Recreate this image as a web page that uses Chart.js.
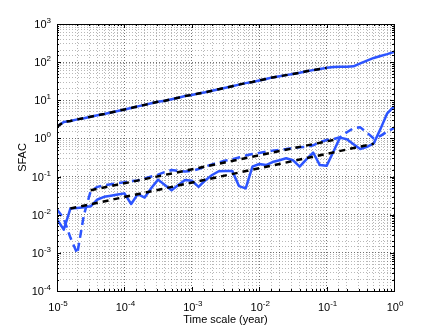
<!DOCTYPE html>
<html>
<head>
<meta charset="utf-8">
<script src="https://cdn.jsdelivr.net/npm/chart.js@4.4.0/dist/chart.umd.min.js"></script>
<style>
  html, body { margin: 0; padding: 0; background: #fff; }
</style>
</head>
<body>
<canvas id="chart" width="436" height="327"></canvas>
<script>
// Time scale (year) grid of the measured curves
const years = [
  1.00e-5, 1.26e-5, 1.58e-5, 2.00e-5, 2.51e-5, 3.16e-5, 3.98e-5, 5.01e-5, 6.31e-5, 7.94e-5,
  1.00e-4, 1.26e-4, 1.58e-4, 2.00e-4, 2.51e-4, 3.16e-4, 3.98e-4, 5.01e-4, 6.31e-4, 7.94e-4,
  1.00e-3, 1.26e-3, 1.58e-3, 2.00e-3, 2.51e-3, 3.16e-3, 3.98e-3, 5.01e-3, 6.31e-3, 7.94e-3,
  1.00e-2, 1.26e-2, 1.58e-2, 2.00e-2, 2.51e-2, 3.16e-2, 3.98e-2, 5.01e-2, 6.31e-2, 7.94e-2,
  1.00e-1, 1.26e-1, 1.58e-1, 2.00e-1, 2.51e-1, 3.16e-1, 3.98e-1, 5.01e-1, 6.31e-1, 7.94e-1,
  1.00
];

// Upper curve (solid blue)
const sfacTop = [
  2.04, 2.69, 2.88, 3.16, 3.39, 3.72, 4.07, 4.37, 4.79, 5.25,
  5.75, 6.31, 6.92, 7.59, 8.32, 9.12, 9.77, 10.7, 11.7, 12.9,
  13.8, 15.1, 16.2, 17.8, 19.5, 21.4, 23.4, 25.7, 28.2, 30.2,
  33.1, 36.3, 39.8, 42.7, 45.7, 49.0, 52.5, 57.5, 61.7, 66.1,
  70.8, 74.1, 75.9, 75.9, 77.6, 93.3, 110, 129, 145, 162,
  186
];

// Lower curve (solid blue)
const sfacLowSolid = [
  0.0076, 0.00407, 0.0145, 0.0151, 0.0158, 0.0166, 0.0251, 0.0295, 0.0316, 0.0339,
  0.0363, 0.0191, 0.0347, 0.0282, 0.0501, 0.0832, 0.0603, 0.0437, 0.0603, 0.0813,
  0.0776, 0.0537, 0.0794, 0.110, 0.138, 0.141, 0.141, 0.0562, 0.049, 0.182,
  0.214, 0.2, 0.24, 0.269, 0.302, 0.269, 0.182, 0.282, 0.427, 0.2,
  0.191, 0.447, 1.05, 0.955, 0.708, 0.525, 0.603, 0.741, 1.78, 4.57,
  6.92
];

// Lower curve (dashed blue)
const sfacLowDashed = [
  0.0138, 0.00794, 0.00251, 0.000955, 0.01, 0.0417, 0.0537, 0.0589, 0.0631, 0.0676,
  0.0708, 0.0759, 0.0794, 0.0891, 0.1, 0.112, 0.132, 0.148, 0.141, 0.135,
  0.141, 0.158, 0.182, 0.209, 0.234, 0.263, 0.282, 0.316, 0.355, 0.389,
  0.417, 0.447, 0.479, 0.501, 0.525, 0.562, 0.589, 0.603, 0.661, 0.794,
  0.912, 0.955, 1.07, 1.45, 1.86, 1.95, 1.41, 1.0, 1.17, 1.51,
  1.86
];

// Fits (black dashed)
const fitTopYears = years.slice(0, 41);
const fitTopSfac = sfacTop.slice(0, 41);
const fitMidYears = [3.16e-5, 0.126];
const fitMidSfac = [0.0437, 0.912];
const fitLowYears = [1.58e-5, 0.501];
const fitLowSfac = [0.0145, 0.724];

// Axis ticks
const xDecades = [1e-5, 1e-4, 1e-3, 1e-2, 1e-1, 1e0];
const yDecades = [1e-4, 1e-3, 1e-2, 1e-1, 1e0, 1e1, 1e2, 1e3];

const BLUE = 'rgb(45, 85, 255)';
const FONT = '"Liberation Sans", Arial, sans-serif';

function pts(xs, ys) {
    return xs.map((x, i) => ({ x: x, y: ys[i] }));
}

function isDecade(v) {
    const l = Math.log10(v);
    return Math.abs(l - Math.round(l)) < 1e-6;
}

// 10^n label
function drawPow(ctx, exp, x, y, align) {
    const base = '10';
    const sup = String(exp);
    ctx.font = '11px ' + FONT;
    const w1 = ctx.measureText(base).width;
    ctx.font = '8px ' + FONT;
    const w2 = ctx.measureText(sup).width;
    let left = align === 'right' ? x - w1 - w2 : x - (w1 + w2) / 2;
    ctx.textAlign = 'left';
    ctx.textBaseline = 'alphabetic';
    ctx.font = '11px ' + FONT;
    ctx.fillText(base, left, y);
    ctx.font = '8px ' + FONT;
    ctx.fillText(sup, left + w1, y - 5);
}

// Рамка, тики внутрь и подписи как в MATLAB
const axesBox = {
    id: 'axesBox',
    afterDraw(chart) {
        const ctx = chart.ctx;
        const a = chart.chartArea;
        const xs = chart.scales.x;
        const ys = chart.scales.y;
        ctx.save();
        ctx.strokeStyle = '#000';
        ctx.lineWidth = 1;

        // inner tick marks
        ctx.beginPath();
        xs.ticks.forEach(t => {
            const px = Math.round(xs.getPixelForValue(t.value)) + 0.5;
            const len = isDecade(t.value) ? 4 : 2;
            ctx.moveTo(px, a.bottom); ctx.lineTo(px, a.bottom - len);
            ctx.moveTo(px, a.top); ctx.lineTo(px, a.top + len);
        });
        ys.ticks.forEach(t => {
            const py = Math.round(ys.getPixelForValue(t.value)) + 0.5;
            const len = isDecade(t.value) ? 4 : 2;
            ctx.moveTo(a.left, py); ctx.lineTo(a.left + len, py);
            ctx.moveTo(a.right, py); ctx.lineTo(a.right - len, py);
        });
        ctx.stroke();

        // frame
        ctx.strokeRect(Math.round(a.left) + 0.5, Math.round(a.top) + 0.5,
            Math.round(a.right - a.left), Math.round(a.bottom - a.top));

        // tick labels
        ctx.fillStyle = '#000';
        xDecades.forEach(v => {
            drawPow(ctx, Math.round(Math.log10(v)), xs.getPixelForValue(v) + 1, a.bottom + 20, 'center');
        });
        yDecades.forEach(v => {
            drawPow(ctx, Math.round(Math.log10(v)), a.left - 6, ys.getPixelForValue(v) + 4, 'right');
        });

        // axis titles
        ctx.font = '11px ' + FONT;
        ctx.textAlign = 'center';
        ctx.textBaseline = 'middle';
        ctx.fillText('Time scale (year)', (a.left + a.right) / 2, a.bottom + 29);
        ctx.save();
        ctx.translate(23, (a.top + a.bottom) / 2);
        ctx.rotate(-Math.PI / 2);
        ctx.fillText('SFAC', 0, 0);
        ctx.restore();

        ctx.restore();
    }
};

const gridOpts = {
    drawTicks: false,
    color: c => (c.tick && isDecade(c.tick.value)) ? 'rgba(0,0,0,0.55)' : 'rgba(0,0,0,0.28)',
    lineWidth: 1
};

const ctx = document.getElementById('chart').getContext('2d');
new Chart(ctx, {
    type: 'line',
    data: {
        datasets: [
            {
                label: 'fit top',
                data: pts(fitTopYears, fitTopSfac),
                borderColor: '#000',
                borderWidth: 2.5,
                borderDash: [6, 5],
                order: 0
            },
            {
                label: 'fit mid',
                data: pts(fitMidYears, fitMidSfac),
                borderColor: '#000',
                borderWidth: 2.5,
                borderDash: [6, 5],
                order: 0
            },
            {
                label: 'fit low',
                data: pts(fitLowYears, fitLowSfac),
                borderColor: '#000',
                borderWidth: 2.5,
                borderDash: [6, 5],
                order: 0
            },
            {
                label: 'top',
                data: pts(years, sfacTop),
                borderColor: BLUE,
                borderWidth: 2.5,
                order: 1
            },
            {
                label: 'low solid',
                data: pts(years, sfacLowSolid),
                borderColor: BLUE,
                borderWidth: 2.5,
                order: 1
            },
            {
                label: 'low dashed',
                data: pts(years, sfacLowDashed),
                borderColor: BLUE,
                borderWidth: 2.5,
                borderDash: [8, 5],
                order: 1
            }
        ]
    },
    options: {
        responsive: false,
        animation: false,
        events: [],
        layout: { padding: { left: 57, right: 42, top: 24, bottom: 36 } },
        elements: {
            point: { radius: 0 },
            line: { tension: 0, fill: false, borderCapStyle: 'butt', borderJoinStyle: 'round' }
        },
        plugins: {
            legend: { display: false },
            tooltip: { enabled: false },
            title: { display: false }
        },
        scales: {
            x: {
                type: 'logarithmic',
                min: 1e-5,
                max: 1,
                ticks: { display: false },
                grid: gridOpts,
                border: { display: false, dash: [1, 2] }
            },
            y: {
                type: 'logarithmic',
                min: 1e-4,
                max: 1e3,
                ticks: { display: false },
                grid: gridOpts,
                border: { display: false, dash: [1, 2] }
            }
        }
    },
    plugins: [axesBox]
});
</script>
</body>
</html>
